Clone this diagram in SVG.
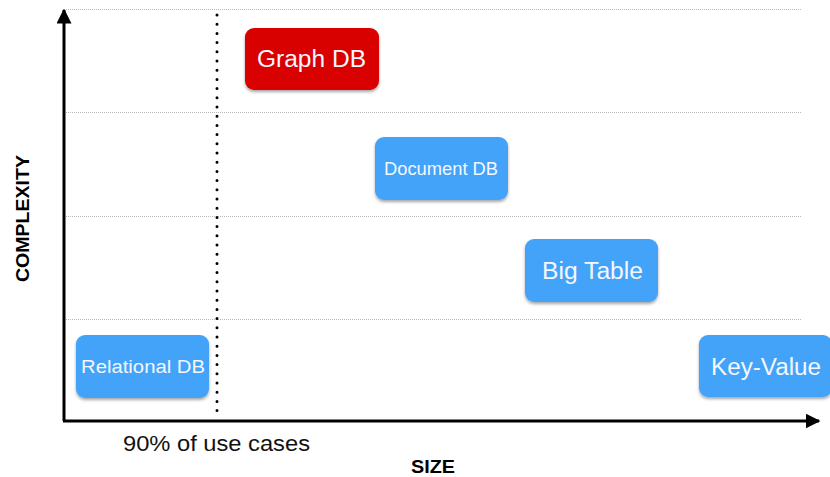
<svg xmlns="http://www.w3.org/2000/svg" width="830" height="477" viewBox="0 0 830 477">
  <defs>
    <filter id="shadow" x="-10%" y="-10%" width="125%" height="135%">
      <feDropShadow dx="0" dy="2" stdDeviation="1.5" flood-color="#000" flood-opacity="0.35"/>
    </filter>
    <marker id="arrow" viewBox="0 0 10 10" refX="9" refY="5" markerWidth="5" markerHeight="5" orient="auto" markerUnits="strokeWidth">
      <path d="M0,0 L10,5 L0,10 z" fill="#000"/>
    </marker>
  </defs>
  <style>
    .grid { stroke: #b8b8b8; stroke-width: 1; stroke-dasharray: 1 1; fill: none; }
    .axis { stroke: #000; stroke-width: 3; fill: none; }
    .box { filter: url(#shadow); }
    .blue { fill: #42a3f8; }
    .red { fill: #d90000; }
    .label { font-family: "Liberation Sans", Arial, sans-serif; fill: #f4f7ff; text-anchor: middle; }
    .axis-title { font-family: "Liberation Sans", Arial, sans-serif; font-weight: bold; fill: #000; text-anchor: middle; font-size: 18px; }
  </style>
  <rect width="830" height="477" fill="#fff"/>

  <!-- horizontal grid lines -->
  <g id="grid">
    <line class="grid" x1="66" y1="9.5" x2="801" y2="9.5"/>
    <line class="grid" x1="66" y1="112.5" x2="801" y2="112.5"/>
    <line class="grid" x1="66" y1="216.5" x2="801" y2="216.5"/>
    <line class="grid" x1="66" y1="319.5" x2="801" y2="319.5"/>
  </g>

  <!-- axes and the 90% boundary -->
  <g id="connectors">
    <line class="axis" x1="64" y1="421" x2="64" y2="10" marker-end="url(#arrow)"/>
    <line class="axis" x1="63" y1="421" x2="819" y2="421" marker-end="url(#arrow)"/>
    <line x1="217" y1="15" x2="217" y2="416" stroke="#000" stroke-width="3" stroke-linecap="round" stroke-dasharray="0 9.2"/>
  </g>

  <g id="graph-db">
    <rect class="box red" x="245" y="28" width="134" height="62" rx="9"/>
    <text class="label" x="311.5" y="67" font-size="23" textLength="109" lengthAdjust="spacingAndGlyphs">Graph DB</text>
  </g>

  <g id="document-db">
    <rect class="box blue" x="375" y="137" width="133" height="63" rx="9"/>
    <text class="label" x="441" y="175" font-size="18" textLength="114" lengthAdjust="spacingAndGlyphs">Document DB</text>
  </g>

  <g id="big-table">
    <rect class="box blue" x="525" y="239" width="133" height="63" rx="9"/>
    <text class="label" x="592.5" y="279" font-size="23" textLength="101" lengthAdjust="spacingAndGlyphs">Big Table</text>
  </g>

  <g id="key-value">
    <rect class="box blue" x="699" y="335" width="133" height="62" rx="9"/>
    <text class="label" x="766" y="375" font-size="23" textLength="110" lengthAdjust="spacingAndGlyphs">Key-Value</text>
  </g>

  <g id="relational-db">
    <rect class="box blue" x="76" y="335" width="133" height="63" rx="9"/>
    <text class="label" x="143" y="373" font-size="18" textLength="124" lengthAdjust="spacingAndGlyphs">Relational DB</text>
  </g>

  <text x="216.5" y="451" font-family="Liberation Sans, Arial, sans-serif" font-size="22" fill="#111" text-anchor="middle" textLength="187" lengthAdjust="spacingAndGlyphs">90% of use cases</text>
  <text class="axis-title" x="433" y="473" textLength="44" lengthAdjust="spacingAndGlyphs">SIZE</text>
  <text class="axis-title" transform="translate(29 218.5) rotate(-90)" textLength="127" lengthAdjust="spacingAndGlyphs">COMPLEXITY</text>
</svg>
